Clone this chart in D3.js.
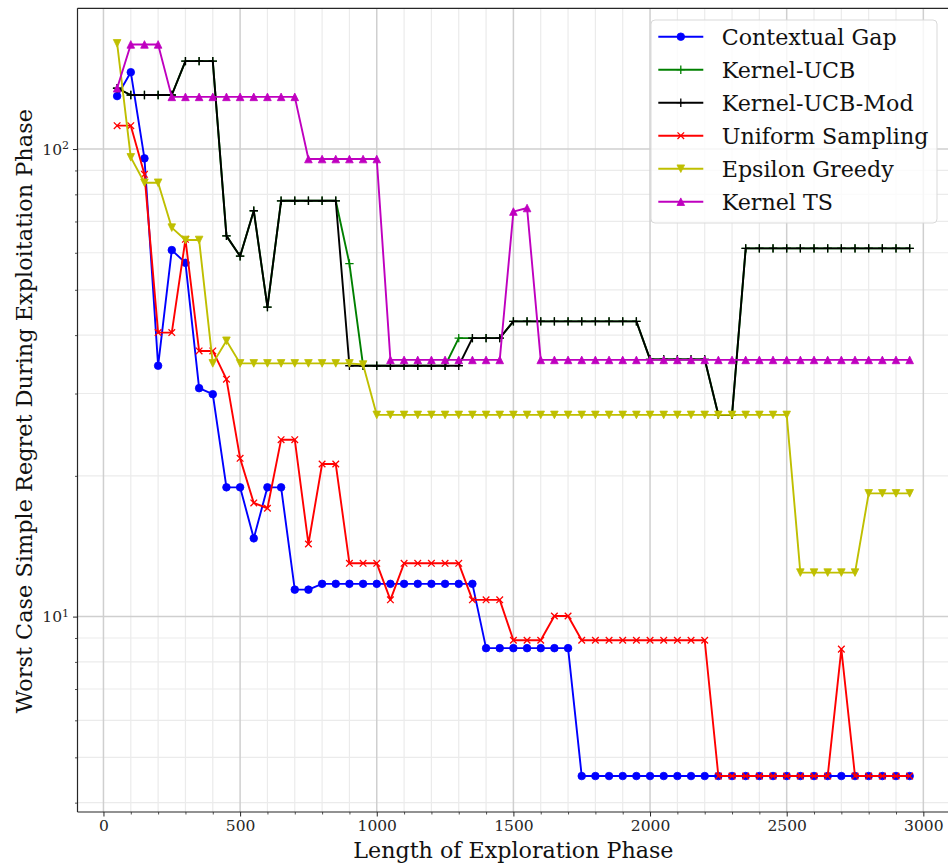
<!DOCTYPE html>
<html>
<head>
<meta charset="utf-8">
<script src="https://cdn.jsdelivr.net/npm/d3@7"></script>
<style>
  body { margin: 0; background: #fff; }
  svg { font-family: "DejaVu Serif", serif; }
</style>
</head>
<body>
<div id="chart"></div>
<script>
// exploration lengths 50..2950
const xValues = [50, 100, 150, 200, 250, 300, 350, 400, 450, 500, 550, 600, 650, 700, 750, 800, 850, 900, 950, 1000,
  1050, 1100, 1150, 1200, 1250, 1300, 1350, 1400, 1450, 1500, 1550, 1600, 1650, 1700, 1750, 1800, 1850, 1900, 1950, 2000,
  2050, 2100, 2150, 2200, 2250, 2300, 2350, 2400, 2450, 2500, 2550, 2600, 2650, 2700, 2750, 2800, 2850, 2900, 2950];

const contextualGap = [129.8, 146, 95.5, 34.4, 60.8, 57.1, 30.8, 29.9, 18.9, 18.9, 14.7, 18.9, 18.9, 11.42, 11.42, 11.75, 11.75, 11.75, 11.75, 11.75,
  11.75, 11.75, 11.75, 11.75, 11.75, 11.75, 11.75, 8.56, 8.56, 8.56, 8.56, 8.56, 8.56, 8.56, 4.56, 4.56, 4.56, 4.56, 4.56, 4.56,
  4.56, 4.56, 4.56, 4.56, 4.56, 4.56, 4.56, 4.56, 4.56, 4.56, 4.56, 4.56, 4.56, 4.56, 4.56, 4.56, 4.56, 4.56, 4.56];

const kernelUCB = [134.9, 130.5, 130.5, 130.5, 130.5, 154.2, 154.2, 154.2, 65.2, 59.0, 73.8, 45.9, 77.5, 77.5, 77.5, 77.5, 77.5, 56.9, 34.4, 34.4,
  34.4, 34.4, 34.4, 34.4, 34.4, 39.4, 39.4, 39.4, 39.4, 42.8, 42.8, 42.8, 42.8, 42.8, 42.8, 42.8, 42.8, 42.8, 42.8, 35.5,
  35.5, 35.5, 35.5, 35.5, 27.0, 27.0, 61.3, 61.3, 61.3, 61.3, 61.3, 61.3, 61.3, 61.3, 61.3, 61.3, 61.3, 61.3, 61.3];

const kernelUCBMod = [134.9, 130.5, 130.5, 130.5, 130.5, 154.2, 154.2, 154.2, 65.2, 59.0, 73.8, 45.9, 77.5, 77.5, 77.5, 77.5, 77.5, 34.4, 34.4, 34.4,
  34.4, 34.4, 34.4, 34.4, 34.4, 34.4, 39.4, 39.4, 39.4, 42.8, 42.8, 42.8, 42.8, 42.8, 42.8, 42.8, 42.8, 42.8, 42.8, 35.5,
  35.5, 35.5, 35.5, 35.5, 27.0, 27.0, 61.3, 61.3, 61.3, 61.3, 61.3, 61.3, 61.3, 61.3, 61.3, 61.3, 61.3, 61.3, 61.3];

const uniformSampling = [112.2, 112.2, 88.3, 40.5, 40.5, 64.1, 37.0, 37.0, 32.2, 21.8, 17.5, 17.05, 23.9, 23.9, 14.3, 21.2, 21.2, 13.0, 13.0, 13.0,
  10.86, 13.0, 13.0, 13.0, 13.0, 13.0, 10.86, 10.86, 10.86, 8.9, 8.9, 8.9, 10.03, 10.03, 8.9, 8.9, 8.9, 8.9, 8.9, 8.9,
  8.9, 8.9, 8.9, 8.9, 4.56, 4.56, 4.56, 4.56, 4.56, 4.56, 4.56, 4.56, 4.56, 8.52, 4.56, 4.56, 4.56, 4.56, 4.56];

const epsilonGreedy = [168.3, 96.0, 84.7, 84.7, 67.9, 63.9, 63.9, 34.8, 38.9, 34.8, 34.8, 34.8, 34.8, 34.8, 34.8, 34.8, 34.8, 34.8, 34.6, 27.0,
  27.0, 27.0, 27.0, 27.0, 27.0, 27.0, 27.0, 27.0, 27.0, 27.0, 27.0, 27.0, 27.0, 27.0, 27.0, 27.0, 27.0, 27.0, 27.0, 27.0,
  27.0, 27.0, 27.0, 27.0, 27.0, 27.0, 27.0, 27.0, 27.0, 27.0, 12.42, 12.42, 12.42, 12.42, 12.42, 18.35, 18.35, 18.35, 18.35];

const kernelTS = [134.9, 167.4, 167.4, 167.4, 129.3, 129.3, 129.3, 129.3, 129.3, 129.3, 129.3, 129.3, 129.3, 129.3, 95.2, 95.2, 95.2, 95.2, 95.2, 95.2,
  35.4, 35.4, 35.4, 35.4, 35.4, 35.4, 35.4, 35.4, 35.4, 73.5, 74.8, 35.4, 35.4, 35.4, 35.4, 35.4, 35.4, 35.4, 35.4, 35.4,
  35.4, 35.4, 35.4, 35.4, 35.4, 35.4, 35.4, 35.4, 35.4, 35.4, 35.4, 35.4, 35.4, 35.4, 35.4, 35.4, 35.4, 35.4, 35.4];

const seriesNames = ["Contextual Gap", "Kernel-UCB", "Kernel-UCB-Mod", "Uniform Sampling", "Epsilon Greedy", "Kernel TS"];
const seriesValues = [contextualGap, kernelUCB, kernelUCBMod, uniformSampling, epsilonGreedy, kernelTS];
const seriesColors = ["#0000ff", "#008000", "#000000", "#ff0000", "#bfbf00", "#bf00bf"];
const seriesMarkers = ["circle", "plus", "plus", "x", "tridown", "triup"];

const xTicks = [0, 500, 1000, 1500, 2000, 2500, 3000];

function drawChart() {
    let width = 948;
    let height = 865;
    let left = 77.5, right = 949.3, top = 8.3, bottom = 812;

    let svg = d3.select('#chart')
        .append('svg')
        .attr('width', width)
        .attr('height', height);

    let x = d3.scaleLinear().domain([-95, 3095]).range([left, right]);
    let y = d3.scaleLog().domain([3.82, 200]).range([bottom, top]);

    // grid
    let minorX = d3.range(0, 3100, 100).filter(v => v % 500 !== 0);
    let minorY = [];
    [1, 10, 100].forEach(function (dec) {
        for (let k = 2; k <= 9; k++) {
            let v = dec * k;
            if (v > y.domain()[0] && v < y.domain()[1]) minorY.push(v);
        }
    });
    let majorY = [10, 100];

    let grid = svg.append('g');
    grid.selectAll('.gxm').data(minorX).enter().append('line')
        .attr('x1', d => x(d)).attr('x2', d => x(d))
        .attr('y1', top).attr('y2', bottom)
        .attr('stroke', '#ebebeb').attr('stroke-width', 1.2);
    grid.selectAll('.gym').data(minorY).enter().append('line')
        .attr('x1', left).attr('x2', right)
        .attr('y1', d => y(d)).attr('y2', d => y(d))
        .attr('stroke', '#ebebeb').attr('stroke-width', 1.2);
    grid.selectAll('.gx').data(xTicks).enter().append('line')
        .attr('x1', d => x(d)).attr('x2', d => x(d))
        .attr('y1', top).attr('y2', bottom)
        .attr('stroke', '#cfcfcf').attr('stroke-width', 1.5);
    grid.selectAll('.gy').data(majorY).enter().append('line')
        .attr('x1', left).attr('x2', right)
        .attr('y1', d => y(d)).attr('y2', d => y(d))
        .attr('stroke', '#cfcfcf').attr('stroke-width', 1.5);

    // markers
    function markerPath(kind) {
        let h = 3.8;
        if (kind === 'circle') return d3.symbol().type(d3.symbolCircle).size(Math.PI * 3.8 * 3.8)();
        if (kind === 'triup') return `M0,${-h}L${h},${h}L${-h},${h}Z`;
        if (kind === 'tridown') return `M0,${h}L${h},${-h}L${-h},${-h}Z`;
        if (kind === 'x') return `M${-3.3},${-3.3}L3.3,3.3M${-3.3},3.3L3.3,${-3.3}`;
        return `M${-4.2},0L4.2,0M0,${-4.2}L0,4.2`;
    }
    function isFilled(kind) {
        return kind === 'circle' || kind === 'triup' || kind === 'tridown';
    }

    let line = d3.line()
        .x(function (d) { return x(d[0]); })
        .y(function (d) { return y(d[1]); });

    let plot = svg.append('g');
    seriesValues.forEach(function (vals, i) {
        let pts = xValues.map((xv, j) => [xv, vals[j]]);
        let g = plot.append('g');
        g.append('path')
            .datum(pts)
            .attr('d', line)
            .attr('fill', 'none')
            .attr('stroke', seriesColors[i])
            .attr('stroke-width', 1.9)
            .attr('stroke-linejoin', 'round');
        g.selectAll('path.m')
            .data(pts)
            .enter()
            .append('path')
            .attr('class', 'm')
            .attr('transform', d => 'translate(' + x(d[0]) + ',' + y(d[1]) + ')')
            .attr('d', markerPath(seriesMarkers[i]))
            .attr('fill', isFilled(seriesMarkers[i]) ? seriesColors[i] : 'none')
            .attr('stroke', seriesColors[i])
            .attr('stroke-width', isFilled(seriesMarkers[i]) ? 0.8 : 1.3);
    });

    // spines
    svg.append('line').attr('x1', left).attr('x2', left).attr('y1', top).attr('y2', bottom)
        .attr('stroke', '#262626').attr('stroke-width', 1.2);
    svg.append('line').attr('x1', left).attr('x2', right).attr('y1', bottom).attr('y2', bottom)
        .attr('stroke', '#262626').attr('stroke-width', 1.2);
    svg.append('line').attr('x1', left).attr('x2', right).attr('y1', top).attr('y2', top)
        .attr('stroke', '#262626').attr('stroke-width', 1.2);
    svg.append('line').attr('x1', right).attr('x2', right).attr('y1', top).attr('y2', bottom)
        .attr('stroke', '#262626').attr('stroke-width', 1.2);

    // x axis
    let xAxis = d3.axisBottom(x).tickValues(xTicks).tickSize(4.5).tickPadding(3.5).tickFormat(d3.format('d'));
    let xg = svg.append('g').attr('transform', 'translate(0,' + bottom + ')').call(xAxis);
    xg.select('.domain').remove();
    xg.selectAll('text').attr('font-size', 15.5).attr('fill', '#262626').attr('font-family', 'DejaVu Serif');
    xg.selectAll('line').attr('stroke', '#262626').attr('stroke-width', 1);
    let xMinor = d3.axisBottom(x).tickValues(minorX).tickSize(2.5).tickFormat('');
    let xmg = svg.append('g').attr('transform', 'translate(0,' + bottom + ')').call(xMinor);
    xmg.select('.domain').remove();
    xmg.selectAll('line').attr('stroke', '#262626').attr('stroke-width', 0.8);

    // y axis
    let yAxis = d3.axisLeft(y).tickValues(majorY).tickSize(4.5).tickFormat('');
    let yg = svg.append('g').attr('transform', 'translate(' + left + ',0)').call(yAxis);
    yg.select('.domain').remove();
    yg.selectAll('line').attr('stroke', '#262626').attr('stroke-width', 1);
    yg.selectAll('.tick').append('text')
        .attr('x', -8.5).attr('dy', '0.32em')
        .attr('text-anchor', 'end')
        .attr('fill', '#262626')
        .attr('font-size', 15.5)
        .attr('font-family', 'DejaVu Serif')
        .each(function (d) {
            let t = d3.select(this);
            t.append('tspan').text('10');
            t.append('tspan').attr('dy', '-0.5em').attr('font-size', 11).text(Math.round(Math.log10(d)));
        });
    let yMinor = d3.axisLeft(y).tickValues(minorY).tickSize(2.5).tickFormat('');
    let ymg = svg.append('g').attr('transform', 'translate(' + left + ',0)').call(yMinor);
    ymg.select('.domain').remove();
    ymg.selectAll('line').attr('stroke', '#262626').attr('stroke-width', 0.8);

    // axis labels
    svg.append('text')
        .attr('x', (left + right) / 2)
        .attr('y', 857.5)
        .attr('text-anchor', 'middle')
        .attr('font-size', 22.2)
        .attr('fill', '#111')
        .text('Length of Exploration Phase');
    svg.append('text')
        .attr('transform', 'translate(32,' + ((top + bottom) / 2 + 1) + ') rotate(-90)')
        .attr('text-anchor', 'middle')
        .attr('font-size', 22.4)
        .attr('fill', '#111')
        .text('Worst Case Simple Regret During Exploitation Phase');

    // legend
    let lg = svg.append('g').attr('transform', 'translate(651,20)');
    lg.append('rect')
        .attr('width', 286).attr('height', 203)
        .attr('rx', 4).attr('ry', 4)
        .attr('fill', 'rgba(255,255,255,0.8)')
        .attr('stroke', '#d9d9d9').attr('stroke-width', 1);
    seriesNames.forEach(function (name, i) {
        let ly = 16.7 + i * 33;
        let row = lg.append('g').attr('transform', 'translate(0,' + ly + ')');
        row.append('line')
            .attr('x1', 7.3).attr('x2', 52.3)
            .attr('stroke', seriesColors[i]).attr('stroke-width', 1.9);
        row.append('path')
            .attr('transform', 'translate(29.8,0)')
            .attr('d', markerPath(seriesMarkers[i]))
            .attr('fill', isFilled(seriesMarkers[i]) ? seriesColors[i] : 'none')
            .attr('stroke', seriesColors[i])
            .attr('stroke-width', isFilled(seriesMarkers[i]) ? 0.8 : 1.3);
        row.append('text')
            .attr('x', 70.7).attr('dy', '0.36em')
            .attr('font-size', 22.2)
            .attr('fill', '#111')
            .text(name);
    });
}

drawChart();
</script>
</body>
</html>
